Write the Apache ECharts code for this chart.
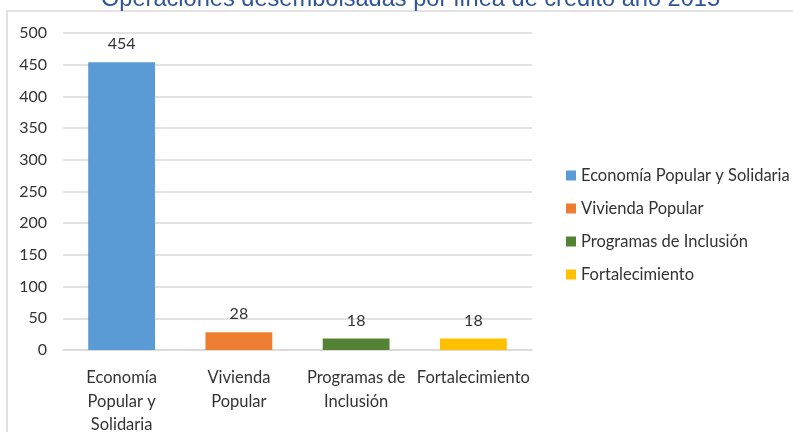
<!DOCTYPE html>
<html>
<head>
<meta charset="utf-8">
<script src="https://cdn.jsdelivr.net/npm/echarts@6/dist/echarts.min.js"></script>
<style>
  html, body { margin: 0; padding: 0; background: #fff; }
  #chart { width: 793px; height: 432px; }
</style>
</head>
<body>
<div id="chart"></div>
<script>
// Data
const titleText = "Operaciones desembolsadas por línea de crédito año 2015";
const seriesNames = [
  "Economía Popular y Solidaria",
  "Vivienda Popular",
  "Programas de Inclusión",
  "Fortalecimiento",
];
const axisLabels = [
  "Economía\nPopular y\nSolidaria",
  "Vivienda\nPopular",
  "Programas de\nInclusión",
  "Fortalecimiento",
];
const values = [454, 28, 18, 18];
const colors = ["#5B9BD5", "#ED7D31", "#548235", "#FFC000"];
const yTicks = { min: 0, max: 500, interval: 50 };

const font = "Lato, 'Open Sans', sans-serif";

// one series per category so each gets its own legend entry
const series = seriesNames.map((name, i) => ({
  name: name,
  type: "bar",
  stack: "all",
  barWidth: "57%",
  itemStyle: { color: colors[i] },
  label: {
    show: true,
    position: "top",
    distance: 10,
    color: "#333333",
    fontFamily: font,
    fontSize: 16,
  },
  data: values.map((v, j) => (j === i ? v : "-")),
}));

const option = {
  animation: false,
  title: {
    text: titleText,
    left: 96,
    top: -18,
    textStyle: {
      color: "#2F5597",
      fontFamily: "'Liberation Sans', Arial, sans-serif",
      fontWeight: "normal",
      fontSize: 23.6,
    },
  },
  graphic: [
    {
      type: "rect",
      shape: { x: 7, y: 11, width: 800, height: 440 },
      style: { fill: "none", stroke: "#D9D9D9", lineWidth: 1.5 },
      silent: true,
    },
  ],
  legend: {
    orient: "vertical",
    left: 561,
    top: 162,
    icon: "rect",
    itemWidth: 10,
    itemHeight: 10,
    itemGap: 16,
    textStyle: { color: "#333333", fontFamily: font, fontSize: 16.5 },
    data: seriesNames,
  },
  grid: {
    left: 63,
    right: 261,
    top: 33,
    bottom: 82,
    containLabel: false,
    outerBoundsMode: "none",
  },
  xAxis: {
    type: "category",
    data: axisLabels,
    axisLine: { lineStyle: { color: "#D9D9D9", width: 1.5 } },
    axisTick: { show: false },
    axisLabel: {
      interval: 0,
      margin: 16,
      color: "#333333",
      fontFamily: font,
      fontSize: 16.5,
      lineHeight: 23.5,
    },
  },
  yAxis: {
    type: "value",
    min: yTicks.min,
    max: yTicks.max,
    interval: yTicks.interval,
    axisLine: { show: false },
    axisTick: { show: false },
    splitLine: { lineStyle: { color: "#D9D9D9", width: 1.5 } },
    axisLabel: {
      margin: 16,
      color: "#333333",
      fontFamily: font,
      fontSize: 16,
    },
  },
  series: series,
};

const myChart = echarts.init(document.getElementById("chart"));
myChart.setOption(option);
</script>
</body>
</html>
